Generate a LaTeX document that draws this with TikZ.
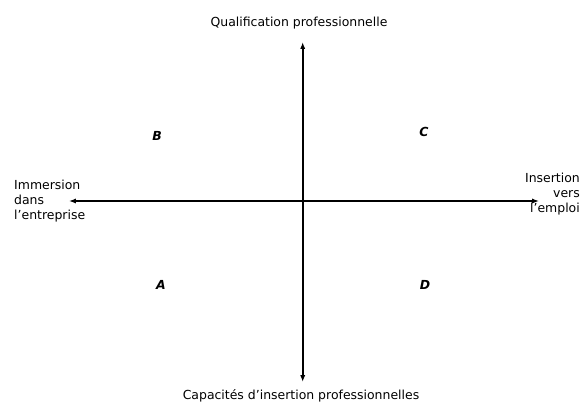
\documentclass[tikz,border=0pt]{standalone}
\usepackage{fontspec}
\setmainfont{DejaVu Sans}
\usetikzlibrary{arrows.meta, positioning}
\tikzset{
	axis/.style={{Latex[length=2.4mm, width=1.8mm]}-{Latex[length=2.4mm, width=1.8mm]}, line width=1.6pt},
	axislabel/.style={font=\fontsize{12.5}{15}\selectfont, inner sep=0pt},
	quadrant/.style={font=\fontsize{12.5}{14}\selectfont\bfseries\itshape, inner sep=0pt}
}

\begin{document}
\begin{tikzpicture}[x=1bp, y=-1bp]
        \useasboundingbox (0,0) rectangle (582,403);

        \coordinate (top) at (302.7, 42);
        \coordinate (bottom) at (302.7, 382);
        \coordinate (left) at (69, 201);
        \coordinate (right) at (539, 201);

        \draw[axis] (left) -- (right);
        \draw[axis] (bottom) -- (top);

        \node[axislabel] (qualif) at (299, 23) {Qualification professionnelle};
        \node[axislabel] (capac) at (301, 396) {Capacités d’insertion professionnelles};
        \node[axislabel, align=left, anchor=west] (immersion) at (14, 201) {Immersion\\dans\\l’entreprise};
        \node[axislabel, align=right, anchor=east] (insertion) at (580, 194) {Insertion\\vers\\l’emploi};

        \node[quadrant] (qB) at (157, 136) {B};
        \node[quadrant] (qC) at (424, 132) {C};
        \node[quadrant] (qA) at (161, 285) {A};
        \node[quadrant] (qD) at (425, 285) {D};
    \end{tikzpicture}
\end{document}
